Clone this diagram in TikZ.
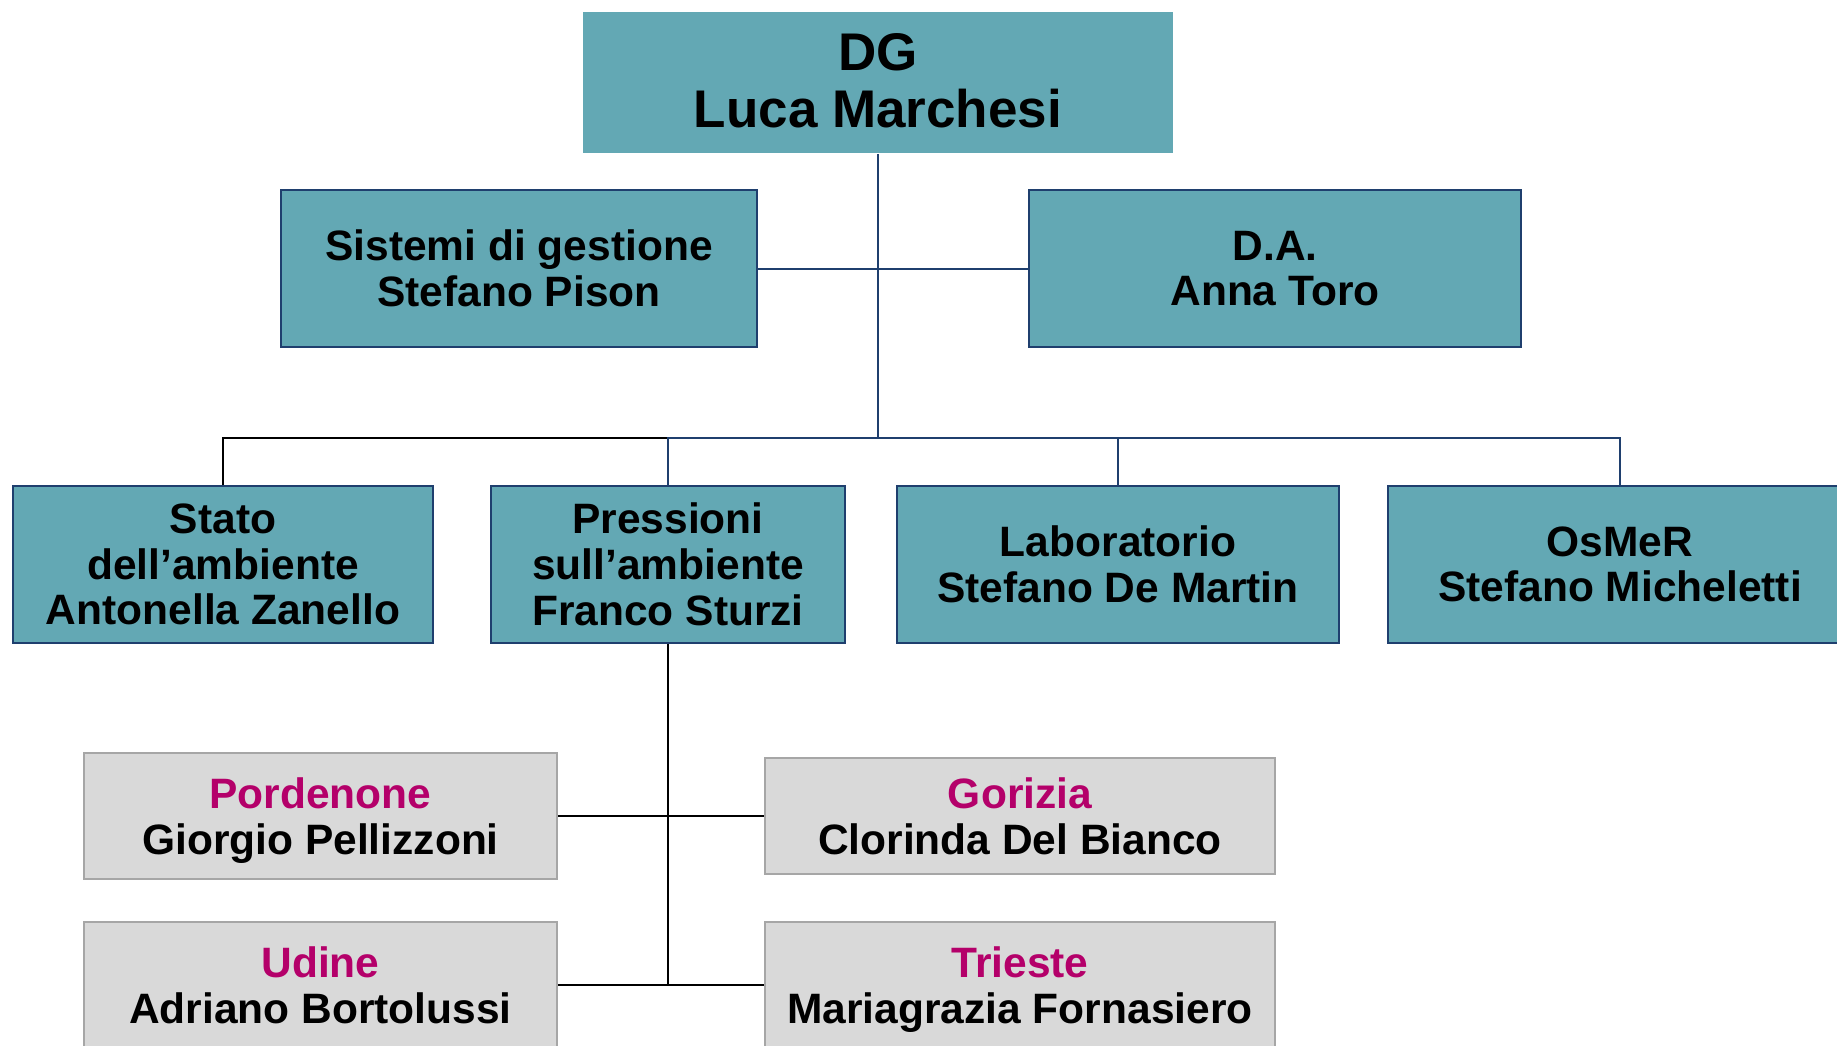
\documentclass[tikz,border=0pt]{standalone}
\usepackage{fontspec}
\setmainfont{Liberation Sans}
\usetikzlibrary{positioning}
\definecolor{unitteal}{HTML}{63A8B4}
\definecolor{unitnavy}{HTML}{1F3F6E}
\definecolor{officegray}{HTML}{D9D9D9}
\definecolor{officeline}{HTML}{A6A6A6}
\definecolor{cityred}{HTML}{B4006A}
\newcommand{\cityname}[1]{\textcolor{cityred}{#1}}

\begin{document}
\begin{tikzpicture}[
  x=1pt,y=-1pt,
  unit/.style={draw=unitnavy,line width=2pt,fill=unitteal,align=center,inner sep=0pt,
    font=\bfseries\fontsize{42.5}{45.7}\selectfont},
  head/.style={unit,draw=none,text depth=4.5pt,font=\bfseries\fontsize{53}{57.4}\selectfont},
  office/.style={unit,draw=officeline,fill=officegray,text depth=0pt},
  link/.style={draw=unitnavy,line width=2pt},
  plain/.style={draw=black,line width=2pt}
]
\useasboundingbox (0,0) rectangle (1837,1046);
\clip (0,0) rectangle (1837,1046);
% top level
\node[head,minimum width=590pt,minimum height=141pt] (dg) at (878,82.5) {DG\\Luca Marchesi};
\node[unit,minimum width=476pt,minimum height=157pt] (sis) at (519,268.5) {Sistemi di gestione\\Stefano Pison};
\node[unit,minimum width=492pt,minimum height=157pt] (da) at (1275,268.5) {D.A.\\Anna Toro};
% areas
\node[unit,minimum width=420pt,minimum height=157pt] (stato) at (223,564.5) {Stato\\dell’ambiente\\Antonella Zanello};
\node[unit,minimum width=354pt,minimum height=157pt] (press) at (668,564.5) {Pressioni\\sull’ambiente\\Franco Sturzi};
\node[unit,minimum width=442pt,minimum height=157pt] (lab) at (1118,564.5) {Laboratorio\\Stefano De Martin};
\node[unit,minimum width=464pt,minimum height=157pt] (osmer) at (1620,564.5) {OsMeR\\Stefano Micheletti};
% provincial offices
\node[office,minimum width=473pt,minimum height=126pt] (porde) at (320.5,816) {\cityname{Pordenone}\\Giorgio Pellizzoni};
\node[office,minimum width=510pt,minimum height=116pt] (gori) at (1020,816) {\cityname{Gorizia}\\Clorinda Del Bianco};
\node[office,minimum width=473pt,minimum height=126pt] (udine) at (320.5,985) {\cityname{Udine}\\Adriano Bortolussi};
\node[office,minimum width=510pt,minimum height=126pt] (trieste) at (1020,985) {\cityname{Trieste}\\Mariagrazia Fornasiero};

\coordinate (bus) at (878,438);
\coordinate (split) at (668,985);

\draw[link] (dg.south) -- (bus);
\draw[link] (sis.east) -- (da.west);
\draw[plain] (bus) -| (stato.north);
\draw[link] (bus) -| (press.north);
\draw[link] (bus) -| (lab.north);
\draw[link] (bus) -| (osmer.north);
\draw[plain] (press.south) -- (split);
\draw[plain] (porde.east) -- (gori.west);
\draw[plain] (udine.east) -- (trieste.west);
\end{tikzpicture}
\end{document}
